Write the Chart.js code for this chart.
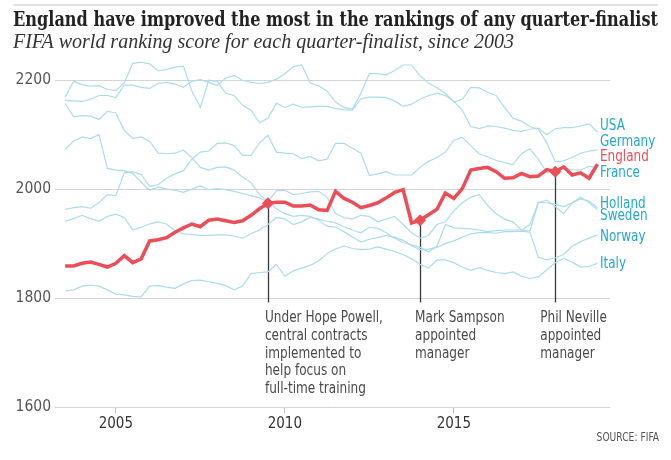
<!DOCTYPE html>
<html>
<head>
<meta charset="utf-8">
<script src="https://cdn.jsdelivr.net/npm/chart.js@4.4.1/dist/chart.umd.min.js"></script>
<style>
  html, body { margin: 0; padding: 0; background: #fff; }
  canvas { display: block; }
</style>
</head>
<body>
<canvas id="chart" width="671" height="460"></canvas>
<script>
// Ranking dates (quarterly, decimal years)
const dates = [
  2003.5, 2003.75, 2004, 2004.25, 2004.5, 2004.75, 2005, 2005.25, 2005.5, 2005.75,
  2006, 2006.25, 2006.5, 2006.75, 2007, 2007.25, 2007.5, 2007.75, 2008, 2008.25,
  2008.5, 2008.75, 2009, 2009.25, 2009.5, 2009.75, 2010, 2010.25, 2010.5, 2010.75,
  2011, 2011.25, 2011.5, 2011.75, 2012, 2012.25, 2012.5, 2012.75, 2013, 2013.25,
  2013.5, 2013.75, 2014, 2014.25, 2014.5, 2014.75, 2015, 2015.25, 2015.5, 2015.75,
  2016, 2016.25, 2016.5, 2016.75, 2017, 2017.25, 2017.5, 2017.75, 2018, 2018.25,
  2018.5, 2018.75, 2019, 2019.25
];

const england = [
  1859, 1859, 1864, 1866, 1862, 1857, 1864, 1878, 1865, 1872,
  1905, 1907, 1911, 1921, 1929, 1936, 1931, 1943, 1945, 1942,
  1939, 1942, 1952, 1964, 1974, 1976, 1976, 1969, 1969, 1971,
  1962, 1961, 1996, 1983, 1976, 1966, 1970, 1975, 1984, 1994,
  1999, 1938, 1943, 1953, 1963, 1993, 1983, 2001, 2035, 2038,
  2040, 2032, 2020, 2021, 2029, 2023, 2024, 2036, 2032, 2041,
  2026, 2030, 2020, 2046
];

const usa = [
  2169, 2198, 2192, 2189, 2190, 2183, 2181, 2195, 2231, 2233,
  2230, 2217, 2220, 2224, 2226, 2180, 2150, 2200, 2198, 2176,
  2172, 2154, 2145, 2122, 2130, 2158, 2150, 2156, 2150, 2151,
  2152, 2152, 2148, 2146, 2145, 2166, 2169, 2169, 2168, 2162,
  2152, 2156, 2165, 2172, 2176, 2172, 2161, 2145, 2115, 2111,
  2116, 2115, 2112, 2108, 2106, 2110, 2112, 2100, 2111, 2113,
  2113, 2116, 2120, 2105
];

const germany = [
  2163, 2162, 2161, 2165, 2172, 2172, 2168, 2191, 2191, 2187,
  2185, 2194, 2196, 2193, 2187, 2198, 2201, 2196, 2190, 2204,
  2209, 2200, 2196, 2194, 2196, 2202, 2212, 2225, 2228, 2195,
  2190, 2180, 2160, 2150, 2147, 2176, 2212, 2212, 2210, 2218,
  2228, 2228, 2208, 2195, 2186, 2176, 2160, 2165, 2187, 2186,
  2178, 2172, 2150, 2130, 2125, 2115, 2110, 2085, 2050, 2052,
  2058, 2066, 2070, 2072
];

const france = [
  1963, 1966, 1968, 1965, 1975, 1990, 1988, 2030, 2032, 2027,
  2005, 2008, 2020, 2028, 2034, 2055, 2068, 2070, 2084, 2085,
  2080, 2062, 2062, 2085, 2099, 2068, 2066, 2065, 2056, 2060,
  2052, 2055, 2084, 2084, 2075, 2066, 2025, 2028, 2032, 2026,
  2026, 2026, 2040, 2051, 2058, 2068, 2090, 2095, 2080, 2065,
  2059, 2053, 2049, 2045, 2065, 2074, 2055, 2030, 2035, 2038,
  2036, 2035, 2042, 2040
];

const sweden = [
  2073, 2088, 2096, 2093, 2100, 2038, 2035, 2034, 2029, 2013,
  1998, 2004, 2000, 1998, 1994, 2000, 2006, 1999, 2001, 1999,
  1996, 1992, 1988, 1984, 1977, 1997, 1998, 1990, 1992, 1995,
  1996, 1985, 1955, 1948, 1945, 1952, 1950, 1940, 1945, 1950,
  1935, 1920, 1910, 1915, 1935, 1940, 1960, 1975, 1985, 1990,
  1970, 1955, 1945, 1940, 1925, 1935, 1975, 1980, 1968, 1955,
  1975, 1985, 1975, 1962
];

const holland = [
  1941, 1946, 1952, 1946, 1941, 1950, 1954, 1948, 1925, 1930,
  1936, 1940, 1936, 1924, 1918, 1917, 1915, 1915, 1916, 1916,
  1914, 1910, 1918, 1925, 1935, 1948, 1945, 1935, 1940, 1948,
  1945, 1941, 1938, 1931, 1925, 1920, 1930, 1928, 1920, 1910,
  1902, 1898, 1893, 1885, 1895, 1935, 1929, 1928, 1927, 1925,
  1922, 1924, 1925, 1925, 1925, 1923, 1976, 1975, 1972, 1968,
  1975, 1982, 1978, 1966
];

const norway = [
  2157, 2133, 2135, 2134, 2128, 2143, 2140, 2108, 2093, 2096,
  2088, 2066, 2065, 2066, 2072, 2058, 2040, 2035, 2040, 2041,
  2035, 2022, 2012, 1990, 1978, 1964, 1955, 1950, 1952, 1950,
  1943, 1932, 1930, 1922, 1912, 1903, 1908, 1911, 1915, 1912,
  1906, 1896, 1889, 1890, 1893, 1900, 1905, 1912, 1918, 1920,
  1920, 1919, 1922, 1922, 1923, 1921, 1875, 1870, 1874, 1880,
  1895, 1904, 1910, 1916
];

const italy = [
  1813, 1815, 1822, 1824, 1822, 1815, 1807, 1806, 1803, 1802,
  1822, 1823, 1820, 1818, 1826, 1832, 1833, 1830, 1827, 1823,
  1815, 1822, 1845, 1847, 1848, 1862, 1840, 1850, 1855, 1860,
  1868, 1882, 1890, 1896, 1891, 1889, 1890, 1894, 1890, 1885,
  1880, 1872, 1862, 1855, 1870, 1870, 1865, 1857, 1851, 1856,
  1851, 1847, 1845, 1848, 1840, 1836, 1839, 1852, 1865, 1873,
  1866, 1857, 1858, 1864
];

const teams = ['USA', 'Germany', 'England', 'France', 'Holland', 'Sweden', 'Norway', 'Italy'];
const others = [usa, germany, france, holland, sweden, norway, italy];

const yTicks = [1600, 1800, 2000, 2200];
const xTicks = [2005, 2010, 2015];

// Events marked on the England line
const eventDates = [2009.5, 2014, 2018];
const eventText = [
  ['Under Hope Powell,', 'central contracts', 'implemented to', 'help focus on', 'full-time training'],
  ['Mark Sampson', 'appointed', 'manager'],
  ['Phil Neville', 'appointed', 'manager']
];

const RED = '#ec4d57';
const BLUE_LINE = '#acdcec';
const BLUE_TEXT = '#24a9cd';
const narrow = "'DejaVu Sans Condensed', 'Liberation Sans Narrow', sans-serif";

const toPoints = arr => arr.map((v, i) => ({ x: dates[i], y: v }));

const datasets = others.map(arr => ({
  data: toPoints(arr),
  borderColor: BLUE_LINE,
  borderWidth: 1.2,
  pointRadius: 0,
  tension: 0,
  order: 1
}));

datasets.push({
  data: toPoints(england),
  borderColor: RED,
  backgroundColor: RED,
  borderWidth: 3.5,
  pointStyle: 'rectRot',
  pointRadius: ctx => eventDates.includes(dates[ctx.dataIndex]) ? 6 : 0,
  pointBorderWidth: 0,
  tension: 0,
  order: 0
});

// label anchors (score units) for the right-hand team names
const labelAt = { USA: 2117, Germany: 2088, England: 2059, France: 2031, Holland: 1974, Sweden: 1952, Norway: 1912, Italy: 1864 };
const noteShift = [-3, -5, -15];

// draw text squeezed horizontally, like the condensed newspaper face
function squeezed(ctx, text, x, y, k) {
  ctx.fillText(text, x, y, ctx.measureText(text).width * k);
}

const overlay = {
  id: 'overlay',
  beforeDatasetsDraw(chart) {
    const { ctx, scales: { x, y } } = chart;
    ctx.save();
    ctx.strokeStyle = '#3a3a3a';
    ctx.lineWidth = 1.3;
    eventDates.forEach(d => {
      const px = Math.round(x.getPixelForValue(d)) + 0.5;
      const v = england[dates.indexOf(d)];
      ctx.beginPath();
      ctx.moveTo(px, y.getPixelForValue(v));
      ctx.lineTo(px, y.getPixelForValue(1792));
      ctx.stroke();
    });
    ctx.restore();
  },
  afterDraw(chart) {
    const { ctx, scales: { x, y }, chartArea } = chart;
    ctx.save();

    // thin rule at top
    ctx.fillStyle = '#e2e2e2';
    ctx.fillRect(13, 4, 645, 2);

    // title + subtitle
    ctx.textBaseline = 'alphabetic';
    ctx.textAlign = 'left';
    ctx.fillStyle = '#222';
    ctx.font = "bold 20px 'DejaVu Serif Condensed', 'DejaVu Serif', serif";
    ctx.fillText('England have improved the most in the rankings of any quarter-finalist', 13, 26, 645);
    ctx.fillStyle = '#333';
    ctx.font = "italic 20px 'Liberation Serif', serif";
    ctx.fillText('FIFA world ranking score for each quarter-finalist, since 2003', 13, 48, 501);

    // team labels on the right
    ctx.font = '16.5px ' + narrow;
    ctx.textBaseline = 'middle';
    teams.forEach(t => {
      ctx.fillStyle = t === 'England' ? RED : BLUE_TEXT;
      squeezed(ctx, t, chartArea.right - 10, y.getPixelForValue(labelAt[t]), 0.81);
    });

    // event annotations
    ctx.fillStyle = '#4a4a4a';
    ctx.font = '16px ' + narrow;
    eventDates.forEach((d, k) => {
      const px = x.getPixelForValue(d) + noteShift[k];
      eventText[k].forEach((line, j) => {
        squeezed(ctx, line, px, 318 + j * 17.7, 0.84);
      });
    });

    // source
    ctx.fillStyle = '#555';
    ctx.font = '12px ' + narrow;
    ctx.textAlign = 'right';
    squeezed(ctx, 'SOURCE: FIFA', 659, 438, 0.85);

    ctx.restore();
  }
};

new Chart(document.getElementById('chart'), {
  type: 'line',
  data: { datasets },
  options: {
    responsive: false,
    animation: false,
    devicePixelRatio: 1,
    layout: { padding: { top: 53, right: 61, left: 0, bottom: 0 } },
    plugins: { legend: { display: false }, tooltip: { enabled: false } },
    scales: {
      x: {
        type: 'linear',
        min: 2003.2,
        max: 2019.62,
        afterBuildTicks: s => { s.ticks = xTicks.map(v => ({ value: v })); },
        afterFit: s => { s.height = 53; },
        border: { display: false },
        grid: { drawOnChartArea: false, drawTicks: true, tickLength: 6, color: '#bdbdbd' },
        ticks: { font: { family: narrow, size: 15 }, color: '#333', padding: 2, callback: v => String(v) }
      },
      y: {
        min: 1600,
        max: 2250,
        afterBuildTicks: s => { s.ticks = yTicks.map(v => ({ value: v })); },
        afterFit: s => { s.width = 55; },
        border: { display: false },
        grid: { color: '#d4d4d4', drawTicks: false },
        ticks: { font: { family: narrow, size: 15.5 }, color: '#555', padding: 4, callback: v => String(v) }
      }
    }
  },
  plugins: [overlay]
});
</script>
</body>
</html>
